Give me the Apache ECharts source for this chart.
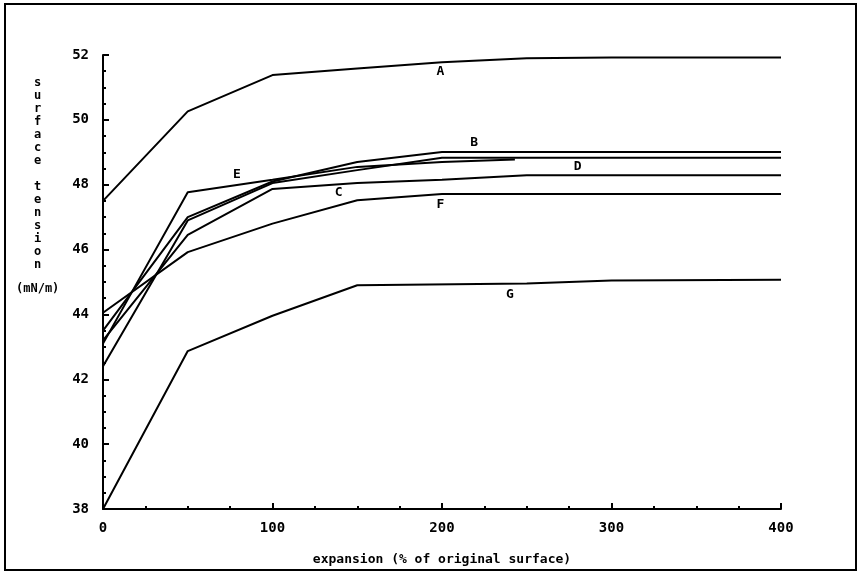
<!DOCTYPE html>
<html>
<head>
<meta charset="utf-8">
<script src="https://cdn.jsdelivr.net/npm/echarts@6/dist/echarts.min.js"></script>
<style>html,body{margin:0;padding:0;background:#fff}#c{width:861px;height:574px}</style>
</head>
<body>
<div id="c"></div>
<script>
// ---- data ----
const xTicks = [0, 100, 200, 300, 400];
const yTicks = [38, 40, 42, 44, 46, 48, 50, 52];
const xA = [0, 50, 100, 150, 200, 250, 300, 400];
const yA = [47.5, 50.26, 51.38, 51.58, 51.78, 51.9, 51.92, 51.92];
const xB = [0, 50, 100, 150, 200, 400];
const yB = [43.5, 47.0, 48.1, 48.7, 49.01, 49.01];
const xC = [0, 50, 100, 150, 200, 250, 400];
const yC = [43.2, 46.45, 47.87, 48.05, 48.15, 48.29, 48.29];
const xD = [0, 50, 100, 150, 200, 400];
const yD = [42.4, 46.9, 48.05, 48.45, 48.83, 48.83];
const xE = [0, 50, 100, 150, 200, 243];
const yE = [43.1, 47.77, 48.15, 48.55, 48.7, 48.78];
const xF = [0, 50, 100, 150, 200, 400];
const yF = [44.05, 45.92, 46.8, 47.52, 47.71, 47.71];
const xG = [0, 50, 100, 150, 250, 300, 400];
const yG = [38.0, 42.87, 43.96, 44.9, 44.95, 45.05, 45.07];
const curveNames = ['A', 'B', 'C', 'D', 'E', 'F', 'G'];
// label anchor in data units [x, y]
const labelAt = {A: [199, 51.48], B: [219, 49.3], C: [139, 47.77], D: [280, 48.57], E: [79, 48.31], F: [199, 47.38], G: [240, 44.6]};
const xTitle = 'expansion (% of original surface)';
const yTitleWords = 'surface tension';
const yUnit = '(mN/m)';

const curves = {A: [xA, yA], B: [xB, yB], C: [xC, yC], D: [xD, yD], E: [xE, yE], F: [xF, yF], G: [xG, yG]};
const FONT = 'DejaVu Sans Mono';

const series = curveNames.map(n => ({
  type: 'line',
  name: n,
  data: curves[n][0].map((x, i) => [x, curves[n][1][i]]),
  symbol: 'none',
  lineStyle: {color: '#000', width: 2},
  animation: false,
  markPoint: {
    symbol: 'circle', symbolSize: 0,
    data: [{coord: labelAt[n], value: n}],
    label: {show: true, formatter: n, color: '#000', fontFamily: FONT, fontWeight: 'bold', fontSize: 13, position: 'inside'}
  }
}));

const chart = echarts.init(document.getElementById('c'), null, {renderer: 'canvas'});
chart.setOption({
  backgroundColor: '#fff',
  animation: false,
  grid: {left: 103, right: 80, top: 55, bottom: 65},
  xAxis: {
    type: 'value', min: 0, max: 400, interval: 100,
    axisLine: {lineStyle: {color: '#000', width: 2}},
    axisTick: {inside: true, length: 6, lineStyle: {color: '#000', width: 2}},
    minorTick: {show: true, splitNumber: 4, length: 3, lineStyle: {color: '#000', width: 2}},
    splitLine: {show: false},
    axisLabel: {color: '#000', fontFamily: FONT, fontWeight: 'bold', fontSize: 14, margin: 12,
      formatter: v => xTicks.includes(v) ? String(v) : ''},
    name: xTitle, nameLocation: 'middle', nameGap: 44,
    nameTextStyle: {color: '#000', fontFamily: FONT, fontWeight: 'bold', fontSize: 13}
  },
  yAxis: {
    type: 'value', min: 38, max: 52, interval: 2,
    axisLine: {show: true, lineStyle: {color: '#000', width: 2}},
    axisTick: {show: true, inside: true, length: 6, lineStyle: {color: '#000', width: 2}},
    minorTick: {show: true, splitNumber: 4, length: 3, lineStyle: {color: '#000', width: 2}},
    splitLine: {show: false},
    axisLabel: {color: '#000', fontFamily: FONT, fontWeight: 'bold', fontSize: 14, margin: 14,
      formatter: v => yTicks.includes(v) ? String(v) : ''}
  },
  graphic: [
    {type: 'rect', shape: {x: 5, y: 4, width: 851, height: 566}, style: {fill: 'none', stroke: '#000', lineWidth: 2}, silent: true},
    {type: 'text', left: 34, top: 76, style: {text: yTitleWords.split('').join('\n'), fontFamily: FONT, fontWeight: 'bold', fontSize: 12, lineHeight: 13, fill: '#000', align: 'center'}},
    {type: 'text', left: 16, top: 283, style: {text: yUnit, fontFamily: FONT, fontWeight: 'bold', fontSize: 12, fill: '#000'}}
  ],
  series: series
});
</script>
</body>
</html>
